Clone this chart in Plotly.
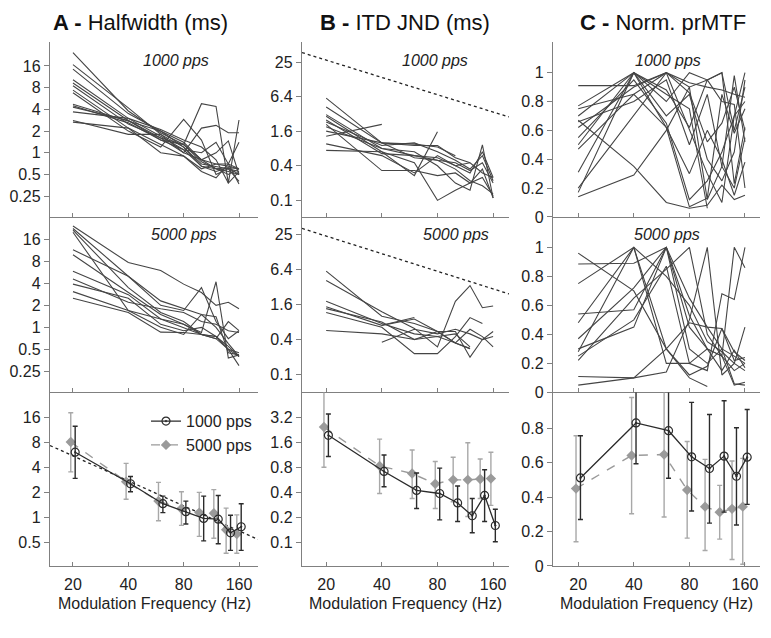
import plotly.graph_objects as go
import numpy as np

W, H = 771, 638
nan = float("nan")

FREQS = [20, 40, 60, 80, 100, 120, 140, 160]
XTICKS = [20, 40, 80, 160]

# ---------------- Column A: Halfwidth (ms) ----------------
A_1000_LINES = [
    [24.6, 3.8, 1.9, 1.3, 0.75, 0.6, 0.55, 0.5],
    [16.7, 4.2, 1.8, 1.2, 0.7, 0.65, 0.6, 0.55],
    [14.5, 3.5, 2.0, 1.4, 0.8, 0.7, 0.65, 0.6],
    [10.3, 3.0, 1.7, 1.1, 0.65, 0.6, 0.62, 0.5],
    [9.3, 2.8, 1.5, 1.3, 4.8, 4.4, 0.38, 2.85],
    [8.5, 2.5, 1.6, 1.0, 2.2, 2.4, 1.9, 1.9],
    [7.4, 2.2, 1.3, 0.9, 0.6, 0.7, 0.7, 0.6],
    [6.8, 2.0, 1.2, 2.9, 1.5, 0.5, 0.6, 0.4],
    [4.7, 2.7, 2.0, 1.2, 0.65, 0.55, 0.62, 0.6],
    [4.5, 2.6, 1.5, 1.1, 1.0, 1.4, 0.7, 1.4],
    [3.7, 3.0, 2.1, 1.5, 1.2, 0.8, 0.38, 0.55],
    [2.8, 1.8, 1.8, 1.0, 0.8, 0.6, 0.5, 0.6],
    [2.66, 2.2, 1.0, 0.9, 0.55, 0.45, 0.7, 0.37],
    [4.3, 2.8, 1.6, 1.3, 0.8, 1.0, 1.46, 0.5],
]
A_5000_LINES = [
    [24.3, 7.7, 6.0, 3.9, 3.0, 2.0, 2.2, 1.8],
    [22.5, 5.0, 2.3, 1.8, 1.5, 1.4, 0.45, 0.42],
    [21.4, 3.5, 1.6, 1.2, 0.8, 0.75, 0.5, 0.3],
    [11.5, 5.0, 2.0, 1.7, 3.5, 1.2, 0.7, 0.9],
    [9.85, 3.0, 1.5, 1.1, 0.85, 4.2, 0.38, 0.42],
    [5.85, 2.8, 1.3, 1.1, 0.8, 0.75, 0.55, 0.4],
    [4.6, 2.2, 1.8, 1.6, 1.2, 1.1, 0.9, 0.85],
    [3.9, 2.5, 1.1, 0.9, 1.0, 0.75, 0.5, 0.45],
    [3.08, 1.7, 1.0, 0.8, 1.5, 1.0, 0.6, 0.4],
    [2.5, 1.6, 0.86, 0.85, 0.8, 0.7, 1.2, 0.9],
    [20.0, 1.7, 1.3, 1.0, 0.8, 0.7, 0.5, 0.4],
]
A_1000_MEAN = [6.09, 2.54, 1.46, 1.17, 0.97, 0.95, 0.65, 0.77]
A_1000_HI = [12.5, 3.11, 1.80, 1.57, 1.80, 1.83, 1.06, 1.46]
A_1000_LO = [2.95, 2.03, 1.14, 0.83, 0.52, 0.48, 0.40, 0.40]
A_5000_MEAN = [8.09, 2.69, 1.57, 1.27, 1.14, 1.12, 0.71, 0.63]
A_5000_HI = [18.2, 4.47, 2.64, 2.03, 2.0, 2.16, 1.29, 1.07]
A_5000_LO = [3.53, 1.65, 0.91, 0.80, 0.59, 0.56, 0.37, 0.37]
A_FIT_K = 110.0          # dotted reference: halfwidth = K / f

# ---------------- Column B: ITD JND (ms) ----------------
B_1000_LINES = [
    [6.0, 1.0, 0.55, 0.5, 0.35, 0.22, 0.18, 0.13],
    [4.2, 1.0, 0.9, 0.9, 0.55, 0.45, 0.3, 0.25],
    [3.1, 0.8, 0.7, 0.4, 0.2, 0.15, 0.92, 0.11],
    [2.9, 0.7, 0.45, 0.1, 0.15, 0.2, 0.35, 0.11],
    [2.5, 0.65, 0.6, 0.5, 0.45, 0.33, 0.45, 0.2],
    [2.3, 0.9, 1.0, 0.7, 0.5, 0.35, 0.6, 0.22],
    [2.1, 0.33, 0.33, 0.27, 0.3, 0.2, 0.25, 0.12],
    [1.6, 1.0, 0.95, 0.85, 0.6, nan, nan, nan],
    [1.3, 2.1, nan, nan, nan, nan, nan, nan],
    [0.96, 0.6, 0.3, 0.6, 0.4, 0.3, 0.7, 0.25],
    [0.74, 0.7, 0.27, 1.56, nan, nan, nan, nan],
    [1.9, 0.8, 0.6, 0.55, 0.4, 0.45, nan, nan],
]
B_5000_LINES = [
    [17.0, nan, nan, 1.6, nan, nan, nan, nan],
    [5.9, 1.0, 0.75, 0.55, 0.35, 0.28, nan, nan],
    [4.1, 1.2, 0.62, 0.3, 1.8, 3.35, 1.4, 1.5],
    [1.8, 0.75, 0.5, 0.45, 0.5, 0.3, nan, nan],
    [1.45, 0.7, 0.9, 0.55, 0.35, 0.28, nan, nan],
    [1.35, 0.8, 0.4, 0.55, 0.55, 0.2, 0.4, 0.55],
    [1.16, 0.65, 0.23, 0.23, 0.45, 0.95, 0.75, nan],
    [0.57, 0.5, 0.4, 0.45, 0.35, 0.6, 0.45, 0.3],
    [nan, 0.36, 0.6, 0.5, 0.6, 0.5, 0.4, 0.45],
    [nan, 0.7, 0.95, nan, nan, nan, nan, nan],
]
B_1000_MEAN = [1.97, 0.72, 0.425, 0.39, 0.30, 0.21, 0.37, 0.16]
B_1000_HI = [3.57, 1.14, 0.69, 0.79, 0.48, 0.34, 0.755, 0.252]
B_1000_LO = [1.09, 0.47, 0.257, 0.187, 0.179, 0.131, 0.179, 0.102]
B_5000_MEAN = [2.48, 0.84, 0.68, 0.51, 0.57, 0.57, 0.585, 0.59]
B_5000_HI = [8.0, 1.77, 1.31, 0.95, 1.07, 1.6, 1.02, 1.23]
B_5000_LO = [0.81, 0.39, 0.34, 0.257, 0.31, 0.206, 0.34, 0.28]
B_LIMIT_K_1000 = 550.0   # dotted reference: K / f
B_LIMIT_K_5000 = 470.0

# ---------------- Column C: Norm. prMTF ----------------
C_1000_LINES = [
    [0.91, 0.91, 1.0, 0.93, 0.9, 0.88, 0.85, 0.83],
    [0.77, 1.0, 0.8, 1.0, 0.95, 1.0, 0.6, 0.9],
    [0.75, 0.85, 1.0, 0.86, 0.52, 0.65, 0.9, 0.6],
    [0.70, 1.0, 0.7, 0.85, 0.4, 0.25, 0.45, 0.95],
    [0.66, 0.8, 0.95, 0.5, 0.85, 0.35, 0.2, 0.55],
    [0.62, 0.9, 1.0, 0.6, 0.3, 0.1, 0.7, 1.0],
    [0.55, 0.95, 0.65, 0.12, 0.25, 0.45, 0.7, 0.8],
    [0.5, 1.0, 0.88, 0.62, 0.95, 0.8, 0.78, 0.2],
    [0.47, 0.85, 0.62, 0.07, 0.13, 0.85, 0.58, 0.75],
    [0.31, 1.0, 0.62, 0.3, 0.6, 0.4, 0.15, 0.38],
    [0.2, 0.7, 1.0, 0.9, 0.12, 0.35, 0.98, 0.52],
    [0.14, 0.29, 0.6, 0.9, 0.95, 1.0, 0.23, 0.62],
    [0.67, 0.35, 0.1, 0.06, 0.08, 0.22, 0.12, 0.15],
    [0.17, 1.0, 0.85, 0.75, 0.06, nan, nan, nan],
]
C_5000_LINES = [
    [0.96, 0.7, 0.3, 0.1, 0.04, nan, nan, nan],
    [0.885, 0.89, 1.0, 0.53, 0.3, 0.25, 0.15, 0.2],
    [0.75, 1.0, 0.3, 0.12, 0.18, 0.44, 0.22, 0.24],
    [0.54, 0.57, 1.0, 0.45, 0.3, 0.25, 0.05, 0.07],
    [0.48, 1.0, 0.8, 0.6, 0.35, 0.28, 0.2, 0.15],
    [0.37, 0.72, 1.0, 0.65, 0.45, 0.3, 0.25, 0.2],
    [0.3, 0.45, 1.0, 0.3, 0.2, 0.3, 0.06, 0.05],
    [0.28, 1.0, 0.2, 0.2, 0.15, 0.68, 0.64, 1.0],
    [0.22, 0.65, 0.85, 1.0, 0.4, 0.25, 1.0, 0.86],
    [0.11, 0.1, 0.14, 0.5, 1.0, 0.12, 0.2, 0.45],
    [0.05, 0.1, 0.3, 0.48, 0.45, 0.44, 0.28, 0.22],
    [0.25, 0.5, 0.87, 0.2, 0.3, 0.15, 0.29, 0.17],
]
C_1000_MEAN = [0.512, 0.832, 0.787, 0.635, 0.567, 0.639, 0.522, 0.633]
C_1000_HI = [0.758, 1.08, 1.06, 0.952, 0.881, 0.961, 0.804, 0.91]
C_1000_LO = [0.27, 0.595, 0.51, 0.32, 0.249, 0.313, 0.238, 0.358]
C_5000_MEAN = [0.45, 0.643, 0.648, 0.442, 0.345, 0.313, 0.332, 0.345]
C_5000_HI = [0.758, 0.98, 1.05, 0.724, 0.62, 0.469, 0.611, 0.626]
C_5000_LO = [0.141, 0.304, 0.285, 0.162, 0.09, 0.156, 0.037, 0.01]

TITLES = ["<b>A -</b> Halfwidth (ms)", "<b>B -</b> ITD JND (ms)", "<b>C -</b> Norm. prMTF"]
RATE_LABELS = ["<i>1000 pps</i>", "<i>5000 pps</i>"]
XTITLE = "Modulation Frequency (Hz)"

# ---------------- layout geometry ----------------
FONT = "Liberation Sans, Arial, Helvetica, sans-serif"
COLS_PX = [(50, 258), (302, 509), (553, 760)]
ROWS_PX = [(43, 220), (220, 398), (398, 574)]
XRANGES = [(15.0, 203.0), (14.8, 195.0), (14.6, 193.0)]
YRANGES = [
    [(0.129, 34.0), (0.129, 32.4), (0.26, 32.0)],
    [(0.0516, 55.9), (0.05, 50.0), (0.052, 6.5)],
    [(0.0, 1.21), (0.0, 1.21), (0.0, 1.01)],
]
YTICKS = [
    [[0.25, 0.5, 1, 2, 4, 8, 16]] * 2 + [[0.5, 1, 2, 4, 8, 16]],
    [[0.1, 0.4, 1.6, 6.4, 25]] * 2 + [[0.1, 0.2, 0.4, 0.8, 1.6, 3.2]],
    [[0, 0.2, 0.4, 0.6, 0.8, 1]] * 2 + [[0, 0.2, 0.4, 0.6, 0.8]],
]

AXCOL = "#808080"
LINECOL = "#454545"
C1 = "#2b2b2b"
C5 = "#9a9a9a"

def px2fx(x):
    return x / W

def px2fy(y):
    return 1 - y / H

def fmt(v):
    return "%g" % v

fig = go.Figure()
layout = dict(
    width=W, height=H, margin=dict(l=0, r=0, t=0, b=0),
    paper_bgcolor="white", plot_bgcolor="white",
    font=dict(family=FONT, size=16, color="#222"),
    showlegend=True,
)

def ax_id(r, c):
    return r * 3 + c + 1

for c in range(3):
    for r in range(3):
        n = ax_id(r, c)
        xs = "" if n == 1 else str(n)
        x0, x1 = XRANGES[c]
        layout["xaxis" + xs] = dict(
            domain=[px2fx(COLS_PX[c][0]), px2fx(COLS_PX[c][1])],
            anchor="y" + xs, type="log",
            range=[np.log10(x0), np.log10(x1)],
            tickvals=XTICKS, ticktext=[str(t) for t in XTICKS],
            showticklabels=(r == 2), ticks="inside", ticklen=4, tickcolor=AXCOL,
            showline=True, linecolor=AXCOL, linewidth=1.4,
            showgrid=False, zeroline=False,
            tickfont=dict(size=16, color="#222"), ticklabelstandoff=4,
        )
        y0, y1 = YRANGES[c][r]
        tv = YTICKS[c][r]
        if c < 2:
            yr = [np.log10(y0), np.log10(y1)]
            ytype = "log"
        else:
            yr = [y0, y1]
            ytype = "linear"
        layout["yaxis" + xs] = dict(
            domain=[px2fy(ROWS_PX[r][1]), px2fy(ROWS_PX[r][0])],
            anchor="x" + xs, type=ytype, range=yr,
            tickvals=tv, ticktext=[fmt(v) for v in tv],
            ticks="outside", ticklen=5, tickcolor=AXCOL,
            showline=True, linecolor=AXCOL, linewidth=1.4,
            showgrid=False, zeroline=False,
            tickfont=dict(size=16, color="#222"),
        )

def refs(r, c):
    n = ax_id(r, c)
    s = "" if n == 1 else str(n)
    return "x" + s, "y" + s

LINES = [[A_1000_LINES, A_5000_LINES], [B_1000_LINES, B_5000_LINES], [C_1000_LINES, C_5000_LINES]]
for c in range(3):
    for r in range(2):
        xa, ya = refs(r, c)
        for ln in LINES[c][r]:
            fig.add_trace(go.Scatter(
                x=FREQS, y=ln, mode="lines", xaxis=xa, yaxis=ya,
                line=dict(color=LINECOL, width=1.1), showlegend=False, hoverinfo="skip"))

def dotted(r, c, k):
    xa, ya = refs(r, c)
    xr = np.array(XRANGES[c])
    fig.add_trace(go.Scatter(
        x=xr, y=k / xr, mode="lines", xaxis=xa, yaxis=ya,
        line=dict(color="#222", width=1.3, dash="dot"), showlegend=False, hoverinfo="skip"))

dotted(0, 1, B_LIMIT_K_1000)
dotted(1, 1, B_LIMIT_K_5000)
dotted(2, 0, A_FIT_K)

SUMMARY = [
    [(A_1000_MEAN, A_1000_HI, A_1000_LO), (A_5000_MEAN, A_5000_HI, A_5000_LO)],
    [(B_1000_MEAN, B_1000_HI, B_1000_LO), (B_5000_MEAN, B_5000_HI, B_5000_LO)],
    [(C_1000_MEAN, C_1000_HI, C_1000_LO), (C_5000_MEAN, C_5000_HI, C_5000_LO)],
]
OFFSET = 1.028
for c in range(3):
    xa, ya = refs(2, c)
    m, hi, lo = SUMMARY[c][1]
    m = np.array(m); hi = np.array(hi); lo = np.array(lo)
    fig.add_trace(go.Scatter(
        x=np.array(FREQS) / OFFSET, y=m, mode="lines+markers", xaxis=xa, yaxis=ya,
        name="5000 pps", legendrank=2, showlegend=(c == 0),
        line=dict(color=C5, width=1.4, dash="dash"),
        marker=dict(symbol="diamond", size=8, color=C5, line=dict(width=0)),
        error_y=dict(type="data", symmetric=False, array=hi - m, arrayminus=m - lo,
                     color="#a8a8a8", thickness=1.4, width=2.5),
    ))
    m, hi, lo = SUMMARY[c][0]
    m = np.array(m); hi = np.array(hi); lo = np.array(lo)
    fig.add_trace(go.Scatter(
        x=np.array(FREQS) * OFFSET, y=m, mode="lines+markers", xaxis=xa, yaxis=ya,
        name="1000 pps", legendrank=1, showlegend=(c == 0),
        line=dict(color=C1, width=1.3),
        marker=dict(symbol="circle-open-dot", size=8, color=C1, line=dict(width=1.2, color=C1)),
        error_y=dict(type="data", symmetric=False, array=hi - m, arrayminus=m - lo,
                     color=C1, thickness=1.4, width=2.5),
    ))

layout["legend"] = dict(
    x=px2fx(257), xanchor="right", y=px2fy(410), yanchor="top",
    bgcolor="rgba(0,0,0,0)", font=dict(size=16, color="#222"),
    itemwidth=30, tracegroupgap=0, traceorder="normal",
)

ann = []
TITLE_CX = [140, 405, 663]
for c in range(3):
    ann.append(dict(text=TITLES[c], x=px2fx(TITLE_CX[c]), y=px2fy(23), xref="paper", yref="paper",
                    showarrow=False, xanchor="center", yanchor="middle",
                    font=dict(size=22, color="#111", family=FONT)))
    cx = (COLS_PX[c][0] + COLS_PX[c][1]) / 2
    ann.append(dict(text=XTITLE, x=px2fx(cx), y=px2fy(612), xref="paper", yref="paper",
                    showarrow=False, xanchor="center", yanchor="middle",
                    font=dict(size=16, color="#222", family=FONT)))
RATE_POS = [[(176, 61), (184, 238)], [(435, 61), (456, 238)], [(668, 61), (667, 238)]]
for c in range(3):
    for r in range(2):
        px, py = RATE_POS[c][r]
        ann.append(dict(text=RATE_LABELS[r], x=px2fx(px), y=px2fy(py), xref="paper", yref="paper",
                        showarrow=False, xanchor="center", yanchor="middle",
                        font=dict(size=16, color="#222", family=FONT)))
layout["annotations"] = ann
fig.update_layout(**layout)
fig.write_html("out.html", config={"displayModeBar": False},
               post_script="document.body.style.margin='0';document.body.style.overflow='hidden';")
